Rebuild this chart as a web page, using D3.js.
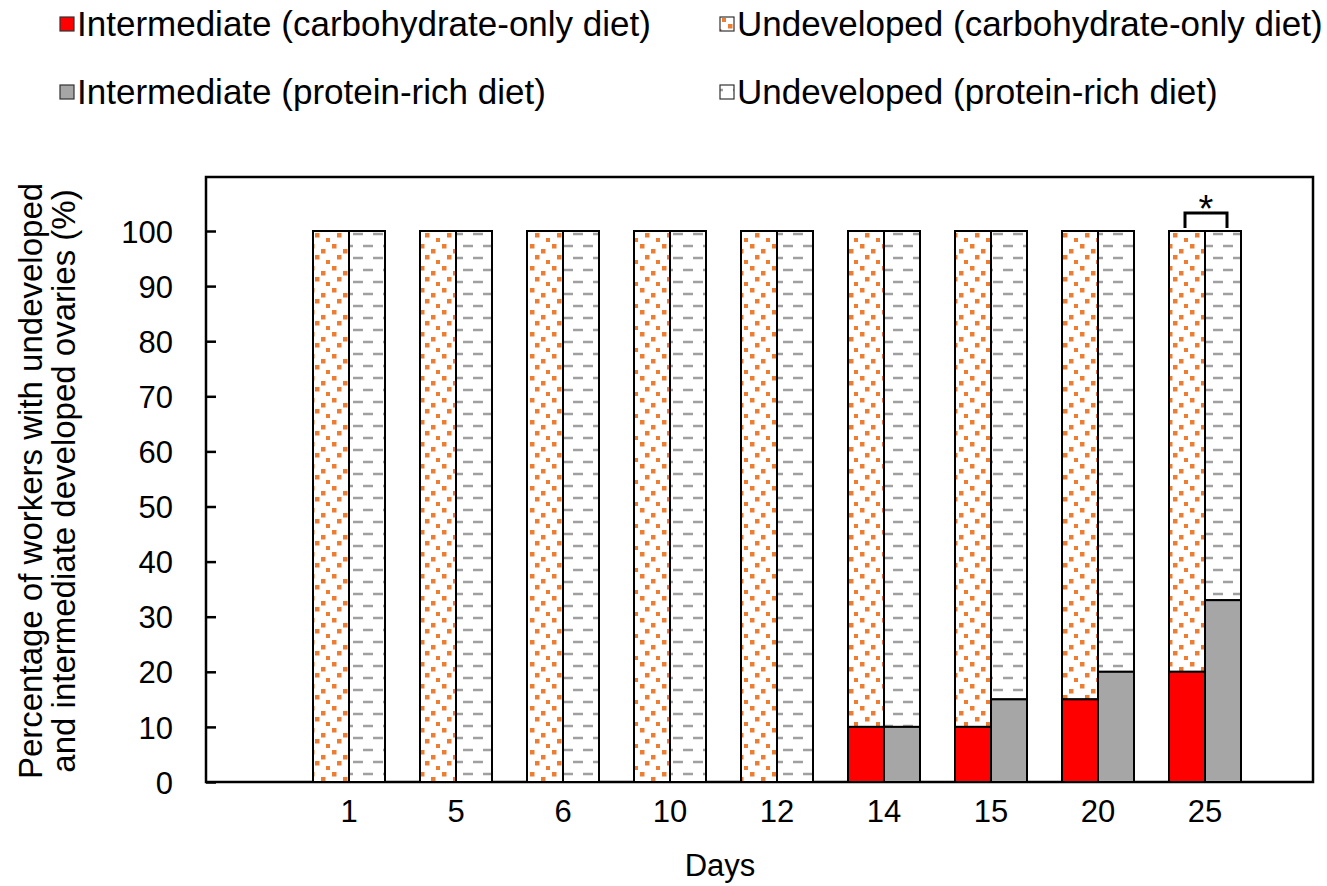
<!DOCTYPE html>
<html>
<head>
<meta charset="utf-8">
<script src="https://cdn.jsdelivr.net/npm/d3@7"></script>
<style>
  body { margin: 0; background: #fff; }
  text { font-family: "Liberation Sans", Arial, sans-serif; fill: #000; }
</style>
</head>
<body>
<script>
// data
var days = ["1", "5", "6", "10", "12", "14", "15", "20", "25"];
var carbIntermediate = [0, 0, 0, 0, 0, 10, 10, 15, 20];
var proteinIntermediate = [0, 0, 0, 0, 0, 10, 15, 20, 33];
var yTicks = [0, 10, 20, 30, 40, 50, 60, 70, 80, 90, 100];
var legendLabels = [
  "Intermediate (carbohydrate-only diet)",
  "Undeveloped (carbohydrate-only diet)",
  "Intermediate (protein-rich diet)",
  "Undeveloped (protein-rich diet)"
];

var width = 1327, height = 886;
var svg = d3.select("body").append("svg")
  .attr("width", width).attr("height", height);

// patterns
var defs = svg.append("defs");
var dots = defs.append("pattern").attr("id", "dots")
  .attr("patternUnits", "userSpaceOnUse")
  .attr("width", 22).attr("height", 22);
dots.append("rect").attr("width", 22).attr("height", 22).attr("fill", "#fff");
[[2, 2], [13, 7], [7, 13], [18, 18]].forEach(function(p) {
  dots.append("rect").attr("x", p[0]).attr("y", p[1])
    .attr("width", 4.5).attr("height", 4.5).attr("fill", "#ED7D31");
});

var dash = defs.append("pattern").attr("id", "dash")
  .attr("patternUnits", "userSpaceOnUse")
  .attr("width", 20).attr("height", 24);
dash.append("rect").attr("width", 20).attr("height", 24).attr("fill", "#fff");
[[3, 6, 13, 6], [13, 18, 20, 18], [0, 18, 3, 18]].forEach(function(l) {
  dash.append("line").attr("x1", l[0]).attr("y1", l[1]).attr("x2", l[2]).attr("y2", l[3])
    .attr("stroke", "#A0A0A0").attr("stroke-width", 2.5);
});

// scales
var frame = {left: 206, right: 1313, top: 177, bottom: 782};
var xScale = d3.scaleBand().domain(days).range([295.5, 1258.5]).padding(0);
var yScale = d3.scaleLinear().domain([0, 100]).range([782, 231]);
var barW = 36;

// frame
svg.append("rect")
  .attr("x", frame.left).attr("y", frame.top)
  .attr("width", frame.right - frame.left).attr("height", frame.bottom - frame.top)
  .attr("fill", "none").attr("stroke", "#000").attr("stroke-width", 2.5);

// bars
var rows = days.map(function(d, i) {
  return {day: d, carb: carbIntermediate[i], prot: proteinIntermediate[i]};
});

function drawSeries(key, offset, fill, pattern) {
  var g = svg.append("g");
  g.selectAll(".top").data(rows).enter().append("rect")
    .attr("x", function(d) { return xScale(d.day) + xScale.bandwidth() / 2 + offset; })
    .attr("y", yScale(100))
    .attr("width", barW)
    .attr("height", function(d) { return yScale(d[key]) - yScale(100); })
    .attr("fill", "url(#" + pattern + ")")
    .attr("stroke", "#000").attr("stroke-width", 2);
  g.selectAll(".bot").data(rows.filter(function(d) { return d[key] > 0; })).enter().append("rect")
    .attr("x", function(d) { return xScale(d.day) + xScale.bandwidth() / 2 + offset; })
    .attr("y", function(d) { return yScale(d[key]); })
    .attr("width", barW)
    .attr("height", function(d) { return yScale(0) - yScale(d[key]); })
    .attr("fill", fill)
    .attr("stroke", "#000").attr("stroke-width", 2);
}
drawSeries("carb", -barW, "#FF0000", "dots");
drawSeries("prot", 0, "#A6A6A6", "dash");

// y axis
var yAxis = svg.append("g")
  .attr("transform", "translate(" + frame.left + ",0)")
  .call(d3.axisLeft(yScale).tickValues(yTicks).tickSize(-10));
yAxis.select(".domain").remove();
yAxis.selectAll("line").attr("stroke", "#000").attr("stroke-width", 2.5);
yAxis.selectAll("text")
  .attr("x", -33).attr("dy", "0.36em")
  .attr("text-anchor", "end")
  .style("font-size", "31px")
  .style("font-family", "'Liberation Sans', Arial, sans-serif")
  .attr("fill", "#000");

// x axis
var xAxis = svg.append("g")
  .attr("transform", "translate(0," + frame.bottom + ")")
  .call(d3.axisBottom(xScale).tickSize(0).tickPadding(18));
xAxis.select(".domain").remove();
xAxis.selectAll("text")
  .attr("dy", "0.71em")
  .style("font-size", "31px")
  .style("font-family", "'Liberation Sans', Arial, sans-serif")
  .attr("fill", "#000");

svg.append("text")
  .attr("x", 720).attr("y", 876)
  .attr("text-anchor", "middle")
  .style("font-size", "31px")
  .text("Days");

// y title
var yTitle = svg.append("text")
  .attr("transform", "translate(0,481) rotate(-90)")
  .attr("text-anchor", "middle")
  .style("font-size", "33px");
yTitle.append("tspan").attr("x", 0).attr("y", 42)
  .text("Percentage of workers with undeveloped");
yTitle.append("tspan").attr("x", 0).attr("y", 75)
  .text("and intermediate developed ovaries (%)");

// significance bracket
var c1 = xScale("25") + xScale.bandwidth() / 2 - barW / 2 - 2;
var c2 = xScale("25") + xScale.bandwidth() / 2 + barW / 2 + 4;
svg.append("path")
  .attr("d", "M" + c1 + "," + (yScale(100) - 3) + "V213H" + c2 + "V" + (yScale(100) - 3))
  .attr("fill", "none").attr("stroke", "#000").attr("stroke-width", 3);
svg.append("text")
  .attr("x", (c1 + c2) / 2).attr("y", 222)
  .attr("text-anchor", "middle")
  .style("font-size", "38px")
  .text("*");

// legend
var legendPos = [[60, 24], [720, 24], [60, 92], [720, 92]];
var legendFill = ["#FF0000", "url(#dots)", "#A6A6A6", "url(#dash)"];
var legend = svg.append("g");
legendLabels.forEach(function(lbl, i) {
  var p = legendPos[i];
  legend.append("rect")
    .attr("x", p[0]).attr("y", p[1] - 7)
    .attr("width", 14).attr("height", 14)
    .attr("fill", legendFill[i])
    .attr("stroke", "#333").attr("stroke-width", 1.2);
  legend.append("text")
    .attr("x", p[0] + 17).attr("y", p[1])
    .attr("dy", "0.35em")
    .style("font-size", "35px")
    .text(lbl);
});
</script>
</body>
</html>
